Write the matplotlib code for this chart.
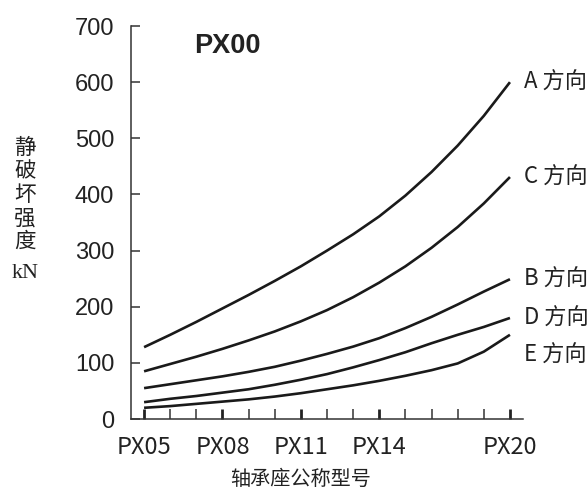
import matplotlib
matplotlib.use('Agg')
import matplotlib.pyplot as plt
import numpy as np

# bearing housing sizes (tick positions 0..14), labelled ones only
tick_labels = ['PX05', 'PX08', 'PX11', 'PX14', 'PX20']
tick_major = [0, 3, 6, 9, 14]
tick_minor = [1, 2, 4, 5, 7, 8, 10, 11, 12, 13]

pos = np.arange(15)

strength_A = [128, 150, 173, 197, 221, 246, 272, 300, 329, 361, 398, 440, 487, 540, 600]
strength_C = [85, 98, 111, 125, 140, 156, 174, 194, 217, 243, 272, 305, 342, 384, 431]
strength_B = [55, 62, 69, 76, 84, 93, 104, 116, 129, 144, 162, 182, 204, 227, 249]
strength_D = [30, 36, 41, 47, 53, 61, 70, 80, 92, 105, 119, 135, 150, 164, 180]
strength_E = [20, 23, 27, 31, 35, 40, 46, 53, 60, 68, 77, 87, 99, 120, 150]

names = ['A 方向', 'C 方向', 'B 方向', 'D 方向', 'E 方向']
label_y = [600, 430, 249, 180, 114]
series = [strength_A, strength_C, strength_B, strength_D, strength_E]

cjk = ['Noto Sans CJK SC', 'DejaVu Sans']

fig = plt.figure(figsize=(5.88, 4.91), dpi=100)
ax = fig.add_axes([0.2228, 0.1466, 0.6667, 0.8004])

for name, ly, vals in zip(names, label_y, series):
    ax.plot(pos, vals, color='#1a1a1a', linewidth=1.9, solid_capstyle='butt')
    ax.text(14.55, ly, name, family=cjk, fontsize=16,
            ha='left', va='center', color='#222222')

ax.set_xlim(-0.5, 14.5)
ax.set_ylim(0, 700)

for s in ['top', 'right']:
    ax.spines[s].set_visible(False)
for s in ['left', 'bottom']:
    ax.spines[s].set_linewidth(1.1)
    ax.spines[s].set_color('#333333')

ax.set_xticks(tick_major)
ax.set_xticklabels(tick_labels, family=cjk, fontsize=17, color='#222222')
ax.set_xticks(tick_minor, minor=True)
ax.tick_params(axis='x', which='major', direction='in', length=7.5, width=2.0,
               color='#222222', pad=12)
ax.tick_params(axis='x', which='minor', direction='in', length=7.5, width=1.1,
               color='#333333')

ax.set_yticks(np.arange(0, 701, 100))
ax.set_yticklabels([str(v) for v in range(0, 701, 100)],
                   family='Liberation Sans', fontsize=17, color='#222222')
ax.tick_params(axis='y', direction='in', length=6.5, width=1.1,
               color='#333333', pad=12)

ax.text(0.16, 0.95, 'PX00', transform=ax.transAxes, fontsize=19.5,
        fontweight='bold', family='Liberation Sans', color='#222222',
        ha='left', va='center')

fig.text(25 / 588, 1 - 195 / 491, '\n'.join('静破坏强度'), family=cjk,
         fontsize=15.5, linespacing=1.08, ha='center', va='center', color='#222222')
fig.text(25 / 588, 1 - 273 / 491, 'kN', family='Liberation Serif',
         fontsize=16, ha='center', va='center', color='#222222')
fig.text(301 / 588, 1 - 479 / 491, '轴承座公称型号', family=cjk,
         fontsize=14.5, ha='center', va='center', color='#222222')

fig.savefig('out.png', dpi=100)
